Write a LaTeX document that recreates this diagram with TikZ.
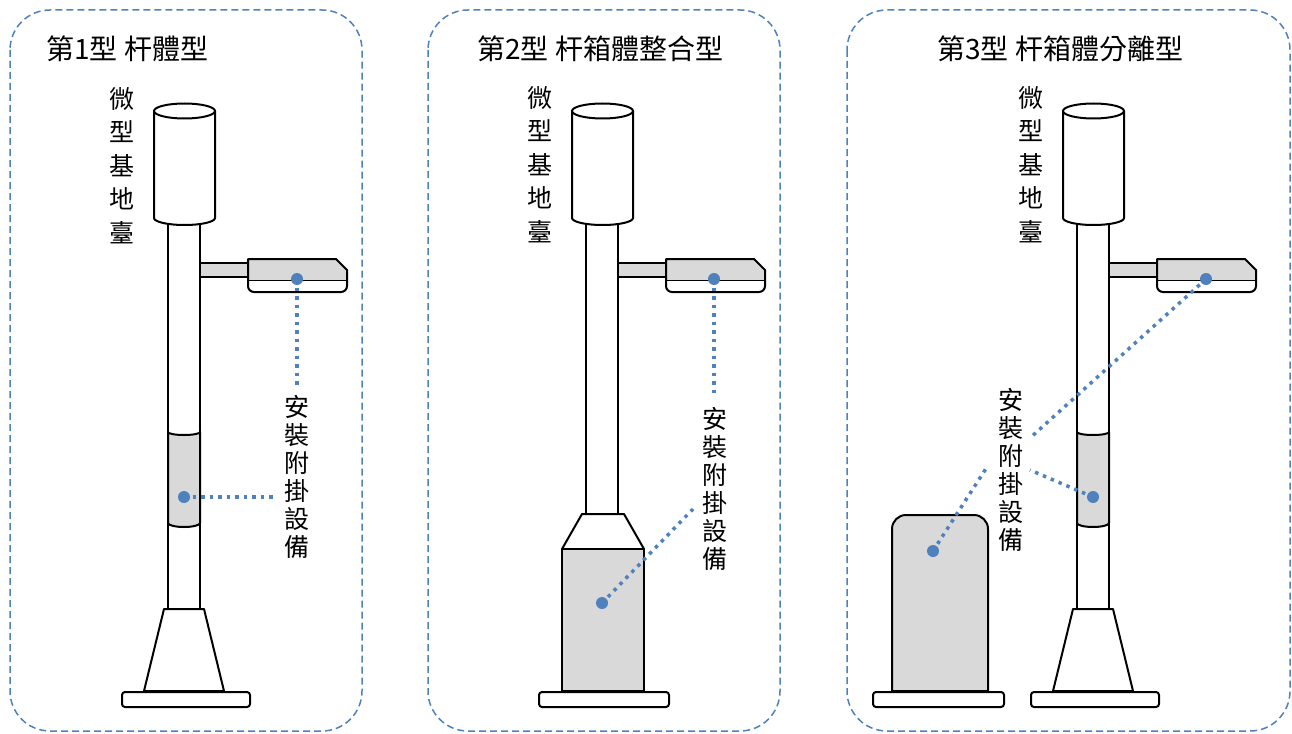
\documentclass[tikz,border=0pt]{standalone}
\usepackage{fontspec}
\newfontfamily\cjk{Noto Sans CJK TC}
\definecolor{dotblue}{RGB}{79,129,189}
\definecolor{partgrey}{RGB}{217,217,217}

\tikzset{
  frame/.style={draw=dotblue,line width=1.5pt,dash pattern=on 7pt off 4pt,rounded corners=40pt},
  part/.style={draw=black,line width=2pt,fill=white,line join=round},
  greypart/.style={part,fill=partgrey},
  leader/.style={draw=dotblue,line width=3.5pt,dash pattern=on 3.5pt off 5pt},
  spot/.style={fill=dotblue},
  title/.style={font=\cjk\fontsize{28}{28}\selectfont,anchor=base west,inner sep=0pt},
  vlabel/.style={font=\cjk\fontsize{25}{28}\selectfont,align=center,anchor=north,inner sep=0pt},
  btslabel/.style={vlabel,font=\cjk\fontsize{25}{33.5}\selectfont}
}

% shaft (bottom end #1), antenna cylinder, arm and lamp head
\newcommand{\drawpole}[1]{%
  \draw[part] (168,222) rectangle (200,#1);
  \draw[part] (154,111) -- (154,218) arc[start angle=180,end angle=360,x radius=30.5pt,y radius=7pt] -- (215,111) -- cycle;
  \draw[part] (184.5,111) ellipse[x radius=30.5pt,y radius=7.5pt];
  \draw[greypart] (200,263) rectangle (248,277);
  \draw[greypart] (248,281) -- (248,259) -- (336,259) -- (347,270) -- (347,281) -- cycle;
  \draw[part,rounded corners=6pt] (248,281) -- (248,292) -- (347,292) -- (347,281);
}
% clamp band on the shaft
\newcommand{\drawband}{%
  \draw[greypart] (168,432) arc[start angle=180,end angle=360,x radius=16pt,y radius=3pt]
    -- (200,523) arc[start angle=0,end angle=-180,x radius=16pt,y radius=4pt] -- cycle;
}
% foot and base plate
\newcommand{\drawfoot}{%
  \draw[part] (164,609) -- (204,609) -- (224,691) -- (144,691) -- cycle;
  \draw[part,rounded corners=3pt] (122,692) rectangle (250,707);
}

\begin{document}
\begin{tikzpicture}[x=1pt,y=-1pt]
\useasboundingbox (0,0) rectangle (1292,733);

% frames
\draw[frame] (10,10) rectangle (362,731);
\draw[frame] (428,10) rectangle (780,731);
\draw[frame] (847,10) rectangle (1290,731);

\node[title] (title1) at (46,60) {第1型 杆體型};
\node[title] (title2) at (477,60) {第2型 杆箱體整合型};
\node[title] (title3) at (937,60) {第3型 杆箱體分離型};

% type 1
\drawpole{609}
\drawband
\drawfoot
\coordinate (lamp1) at (297,279);
\coordinate (band1) at (184,497);
\node[btslabel] (bts1) at (122,87) {微\\型\\基\\地\\臺};
\node[vlabel] (attach1) at (297,395) {安\\裝\\附\\掛\\設\\備};
\coordinate (end1a) at (297,385);
\coordinate (end1b) at (277,497);

% type 2
\begin{scope}[xshift=418pt]
\drawpole{514}
\draw[part] (164,514) -- (206,514) -- (226,549) -- (144,549) -- cycle;
\draw[greypart] (144,549) rectangle (226,691);
\draw[part,rounded corners=3pt] (121,692) rectangle (251,707);
\coordinate (lamp2) at (296,279);
\coordinate (box2) at (184,603);
\node[btslabel] (bts2) at (122,86) {微\\型\\基\\地\\臺};
\node[vlabel] (attach2) at (297,407) {安\\裝\\附\\掛\\設\\備};
\coordinate (end2a) at (296,393);
\coordinate (end2b) at (275,509);
\end{scope}

% type 3
\begin{scope}[xshift=909pt]
\drawpole{609}
\drawband
\drawfoot
\coordinate (lamp3) at (297,279);
\coordinate (band3) at (184,497);
\node[btslabel] (bts3) at (122,86) {微\\型\\基\\地\\臺};
\end{scope}
\draw[greypart,rounded corners=14pt] (892,691) -- (892,515) -- (988,515) -- (988,691);
\draw[part] (892,691) -- (988,691);
\draw[part,rounded corners=3pt] (873,692) rectangle (1004,707);
\coordinate (cab3) at (933,551);
\node[vlabel] (attach3) at (1011,388) {安\\裝\\附\\掛\\設\\備};
\coordinate (end3a) at (1030,438);
\coordinate (end3b) at (1030,470);
\coordinate (end3c) at (987,467);

% leaders
\draw[leader] (lamp1) -- (end1a);
\draw[leader] (band1) -- (end1b);
\draw[leader] (lamp2) -- (end2a);
\draw[leader] (box2) -- (end2b);
\draw[leader] (lamp3) -- (end3a);
\draw[leader] (band3) -- (end3b);
\draw[leader] (cab3) -- (end3c);
\foreach \p in {lamp1,band1,lamp2,box2,lamp3,band3,cab3}
  \fill[spot] (\p) circle (6pt);
\end{tikzpicture}
\end{document}
